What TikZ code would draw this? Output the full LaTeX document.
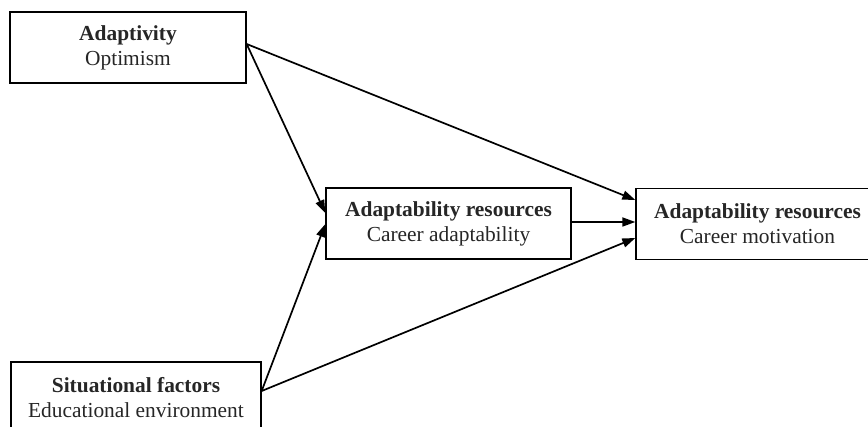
\documentclass[tikz,border=0pt]{standalone}
\usepackage{fontspec}
\setmainfont{Liberation Serif}
\usetikzlibrary{arrows.meta}
\begin{document}
\begin{tikzpicture}[x=1pt,y=-1pt,
  box/.style={draw, line width=1.3pt, inner sep=0pt, minimum height=71pt, align=center,
    font=\fontsize{21.4}{25}\selectfont, text=black!85},
  arr/.style={line width=1.7pt, -{Triangle[length=13pt,width=9pt]}}]
\useasboundingbox (0,0) rectangle (868,427);
\clip (0,0) rectangle (868,427);
\fill[white] (0,0) rectangle (868,427);
\node[box, minimum width=236pt] (A) at (128,47.5) {\textbf{Adaptivity}\\Optimism};
\node[box, minimum width=245pt] (M) at (448.5,223.5) {\textbf{Adaptability resources}\\Career adaptability};
\node[box, minimum width=243pt] (R) at (757.5,224) {\textbf{Adaptability resources}\\Career motivation};
\node[box, minimum width=250pt] (S) at (136,397.5) {\textbf{Situational factors}\\Educational environment};
\coordinate (aout) at ([yshift=3.5pt]A.east);
\coordinate (sout) at ([yshift=6.5pt]S.east);
\draw[arr] (aout) -- ([yshift=10.5pt]M.west);
\draw[arr] (aout) -- ([yshift=24pt]R.west);
\draw[arr] (sout) -- ([yshift=-0.5pt]M.west);
\draw[arr] (sout) -- ([yshift=-14pt]R.west);
\draw[arr] ([yshift=1.5pt]M.east) -- ([yshift=2pt]R.west);
\end{tikzpicture}
\end{document}
